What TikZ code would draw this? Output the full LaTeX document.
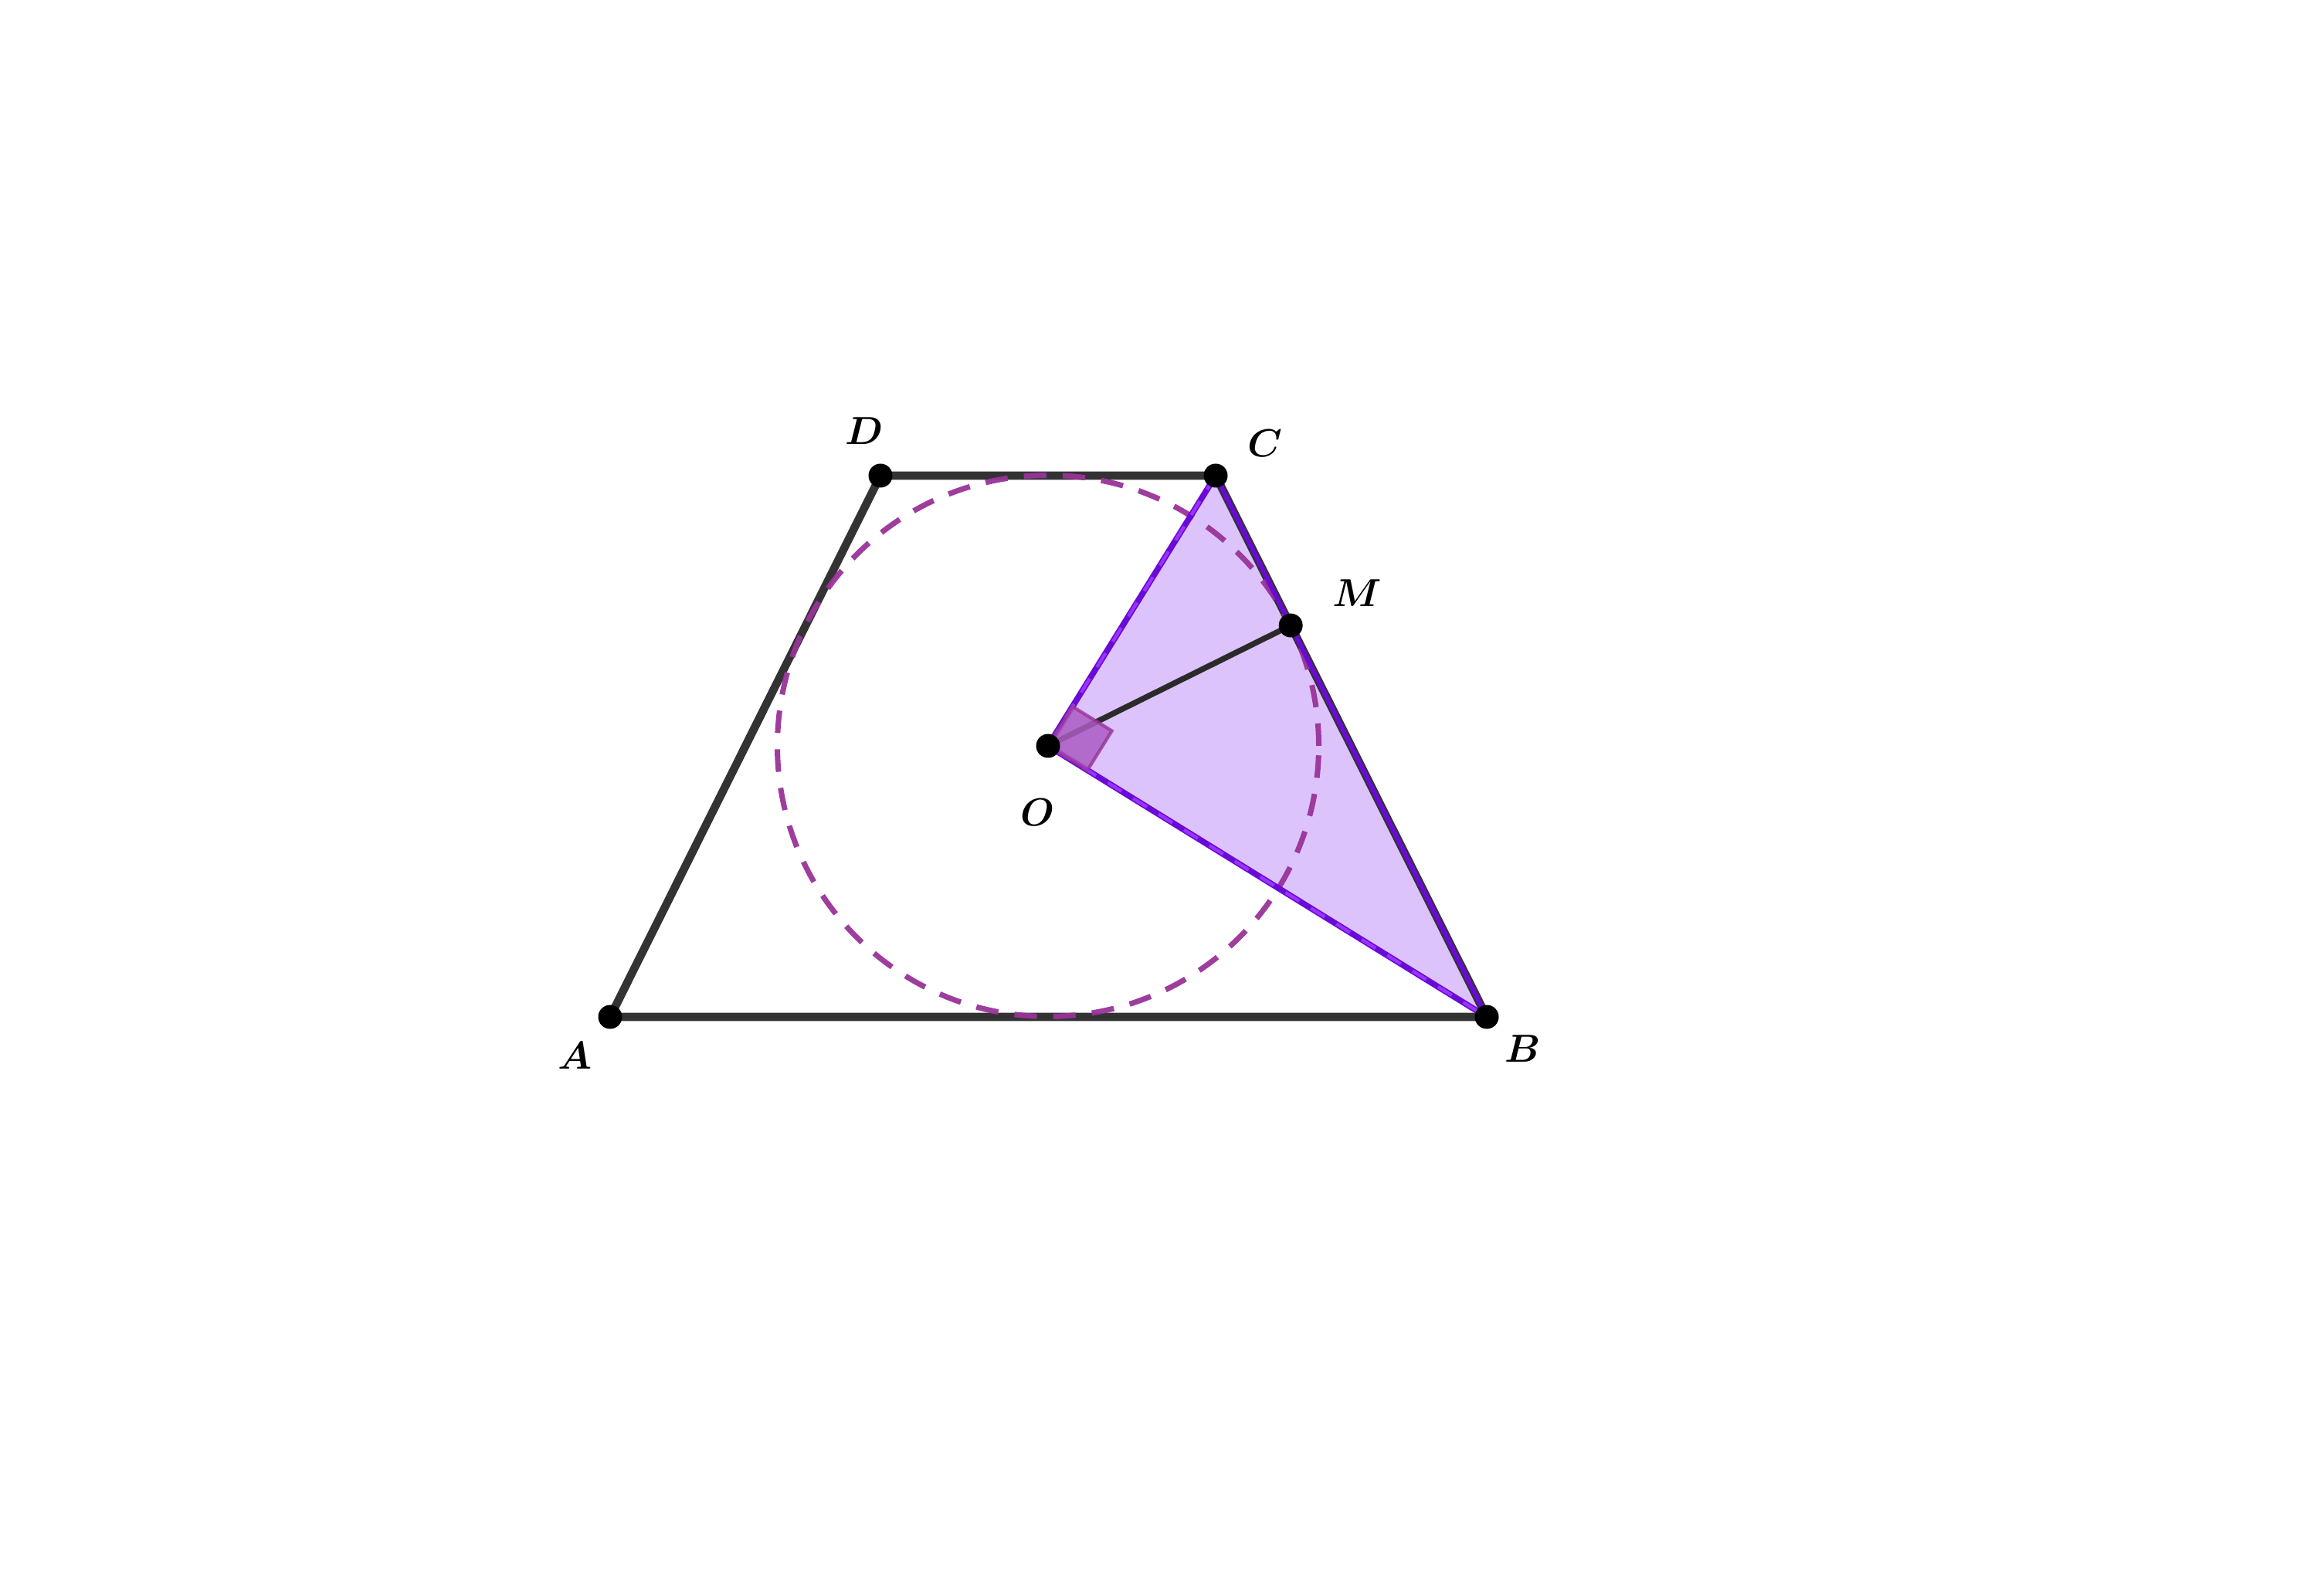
\documentclass[tikz,border=0pt]{standalone}
\usepackage{bm}
\usetikzlibrary{calc, positioning}

\definecolor{edgegray}{HTML}{333333}
\definecolor{circpurple}{HTML}{993399}
\definecolor{trifill}{HTML}{DCC3FC}
\definecolor{tridark}{HTML}{6A0AD6}
\definecolor{trilight}{HTML}{9B33FF}
\definecolor{rightfill}{HTML}{AB5CC2}

\tikzset{
    dot/.style={circle, fill=black, inner sep=0pt, minimum size=0.31cm},
    edge/.style={draw=edgegray, line width=3pt},
    incircle/.style={draw=circpurple, line width=2pt, dash pattern=on 8.3pt off 6pt, opacity=0.95},
    ptlabel/.style={inner sep=1pt, font=\fontsize{15.5}{18}\selectfont},
}

\begin{document}
\begin{tikzpicture}
    \useasboundingbox (0,0) rectangle (30,20.66);
    % points of the trapezoid
    \coordinate (A) at (7.90,7.49);
    \coordinate (B) at (19.25,7.49);
    \coordinate (C) at (15.74,14.50);
    \coordinate (D) at (11.40,14.50);
    \coordinate (O) at (13.57,11.00);
    \coordinate (M) at ($(C)!2.17cm!(B)$);

    % shaded triangle
    \fill[trifill] (O) -- (C) -- (B) -- cycle;

    % trapezoid
    \draw[edge] (A) -- (B) -- (C) -- (D) -- cycle;

    % inscribed circle
    \draw[incircle] (O) circle (3.505);

    % triangle sides
    \draw[tridark, line width=2.2pt] (C) -- (O) -- (B);
    \draw[trilight, line width=1.2pt, dash pattern=on 6pt off 5pt] (C) -- (O) -- (B);
    \draw[tridark, line width=1.7pt] (C) -- (B);

    % radius to the tangent point
    \draw[edgegray!85!black, line width=2.1pt] (O) -- (M);

    % right angle at O
    \coordinate (rc) at ($(O)!0.6cm!(C)$);
    \coordinate (rb) at ($(O)!0.6cm!(B)$);
    \coordinate (rm) at ($(rc)+(rb)-(O)$);
    \draw[circpurple, line width=1.2pt, fill=rightfill, fill opacity=0.85, draw opacity=0.8]
        (O) -- (rc) -- (rm) -- (rb) -- cycle;

    % dots
    \foreach \p in {A,B,C,D,O,M}
        \node[dot] (d\p) at (\p) {};

    % labels
    \node[ptlabel] (lblA) at (7.44,6.99) {$\bm{A}$};
    \node[ptlabel] (lblB) at (19.72,7.08) {$\bm{B}$};
    \node[ptlabel] (lblC) at (16.38,14.92) {$\bm{C}$};
    \node[ptlabel] (lblD) at (11.19,15.08) {$\bm{D}$};
    \node[ptlabel] (lblM) at (17.57,12.98) {$\bm{M}$};
    \node[ptlabel] (lblO) at (13.43,10.14) {$\bm{O}$};
\end{tikzpicture}
\end{document}
